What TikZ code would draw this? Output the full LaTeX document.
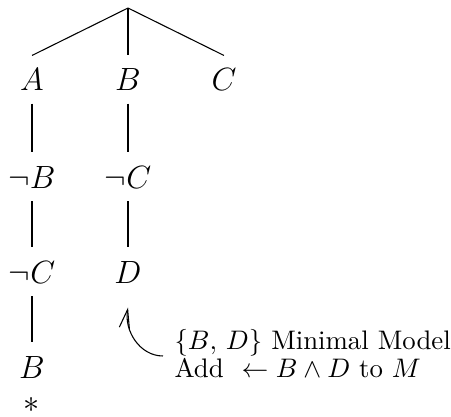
\documentclass[tikz,border=0pt]{standalone}
\usetikzlibrary{arrows.meta}
\begin{document}
\begin{tikzpicture}[x=0.373pt,y=-0.373pt,
  lab/.style={inner sep=0pt,text height=7.9pt,text depth=0pt,font=\fontsize{11.6}{14}\selectfont},
  edge/.style={shorten <=4.7pt,shorten >=5.5pt},
  note/.style={anchor=base west,inner sep=0pt},
  curvearrow/.style={-{Straight Barb[length=7pt,width=3.8pt]}}]
\useasboundingbox (0,0) rectangle (451,417);
\coordinate (root) at (128,8);
\node[lab] (A) at (32,80) {$A$};
\node[lab] (B) at (128,80) {$B$};
\node[lab] (C) at (224,80) {$C$};
\node[lab] (nB) at (32,177.5) {$\neg B$};
\node[lab] (nC2) at (128,177.5) {$\neg C$};
\node[lab] (nC1) at (32,272.5) {$\neg C$};
\node[lab] (D) at (128,272.5) {$D$};
\node[lab] (B2) at (32,368) {$B$};
\node[inner sep=0pt,font=\fontsize{11.6}{14}\selectfont] (star) at (32,405) {$*$};
\draw (root) -- ([yshift=5pt]A.north);
\draw (root) -- ([yshift=5pt]B.north);
\draw (root) -- ([yshift=5pt]C.north);
\draw[edge] (A) -- (nB);
\draw[edge] (nB) -- (nC1);
\draw[edge] (nC1) -- (B2);
\draw[edge] (B) -- (nC2);
\draw[edge] (nC2) -- (D);
\node[note] (n1) at (174,350) {$\{B,\,D\}$ Minimal Model};
\node[note] (n2) at (174,378) {Add\ \ $\leftarrow B\wedge D$ to $M$};
\coordinate (astart) at (163,356);
\draw[curvearrow] (astart) to[out=180,in=-100] ([yshift=-8.9pt]D.south);
\end{tikzpicture}
\end{document}
